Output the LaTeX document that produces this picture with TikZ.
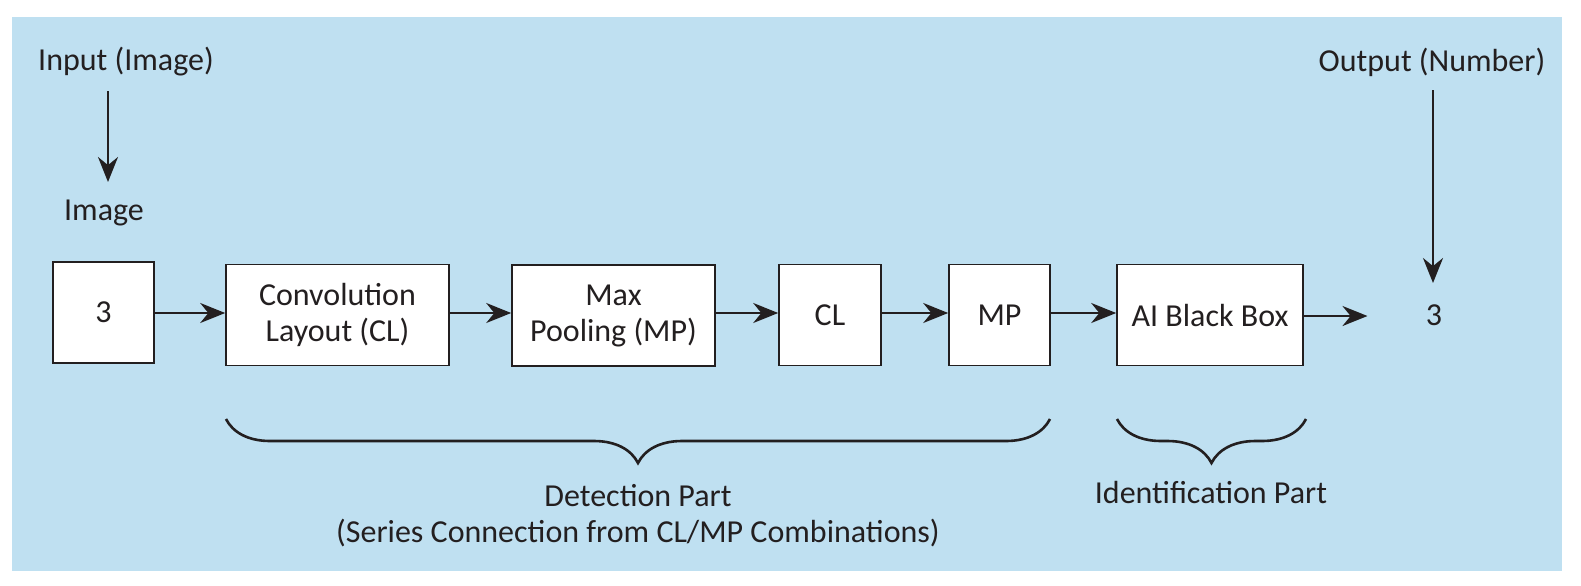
\documentclass[tikz,border=0pt]{standalone}
\usepackage{fontspec}
\setmainfont{Carlito}
\usetikzlibrary{arrows.meta,decorations.pathreplacing}
\definecolor{bgblue}{RGB}{191,224,241}
\definecolor{ink}{RGB}{35,31,32}
\tikzset{
  box/.style={draw=ink, line width=0.8pt, fill=white, minimum height=50.5pt, inner sep=0pt, align=center, text=ink},
  lbl/.style={text=ink, inner sep=0pt, align=center},
  arr/.style={draw=ink, line width=1.2pt, -{Stealth[length=12.5pt,width=10pt]}},
  brc/.style={draw=ink, line width=1.3pt, decorate, decoration={brace, mirror, amplitude=22pt}},
}
\begin{document}
\begin{tikzpicture}[x=0.5pt, y=-0.5pt, font=\fontsize{16pt}{18pt}\selectfont]
\useasboundingbox (0,0) rectangle (1581,585);
\fill[bgblue] (12,17) rectangle (1562,571);

\node[lbl] (inlbl) at (126,62) {Input (Image)};
\node[lbl] (imglbl) at (104,213) {Image};
\node[lbl] (outlbl) at (1432,62) {Output (Number)};

\node[box, minimum width=50.5pt] (img) at (103.5,312.5) {3};
\node[box, minimum width=111.5pt] (cl1) at (337.5,315) {Convolution\\Layout (CL)};
\node[box, minimum width=101.5pt] (mp1) at (613.5,315.5) {Max\\Pooling (MP)};
\node[box, minimum width=51pt] (cl2) at (830,315) {CL};
\node[box, minimum width=50.5pt] (mp2) at (999.5,315) {MP};
\node[box, minimum width=93pt] (ai) at (1210,315) {AI Black Box};
\node[lbl] (outnum) at (1434,315) {3};

\coordinate (ina) at (108,91);
\coordinate (inb) at (108,182);
\coordinate (outa) at (1433,90);
\coordinate (outb) at (1433,283);

\draw[arr] (ina) -- (inb);
\draw[arr] (outa) -- (outb);
\draw[arr] (img.east |- 0,313) -- (cl1.west |- 0,313);
\draw[arr] (cl1.east |- 0,313) -- (mp1.west |- 0,313);
\draw[arr] (mp1.east |- 0,313) -- (cl2.west |- 0,313);
\draw[arr] (cl2.east |- 0,313) -- (mp2.west |- 0,313);
\draw[arr] (mp2.east |- 0,313) -- (ai.west |- 0,313);
\draw[arr] (ai.east |- 0,316) -- ([xshift=-29pt]outnum.west |- 0,316);

\coordinate (d1) at (226,419);
\coordinate (d2) at (1050,419);
\coordinate (i1) at (1117,419);
\coordinate (i2) at (1306,419);
\draw[brc] (d1) -- (d2);
\draw[brc] (i1) -- (i2);

\node[lbl] (det) at (638,516) {Detection Part\\(Series Connection from CL/MP Combinations)};
\node[lbl] (ident) at (1211,492) {Identification Part};
\end{tikzpicture}
\end{document}
